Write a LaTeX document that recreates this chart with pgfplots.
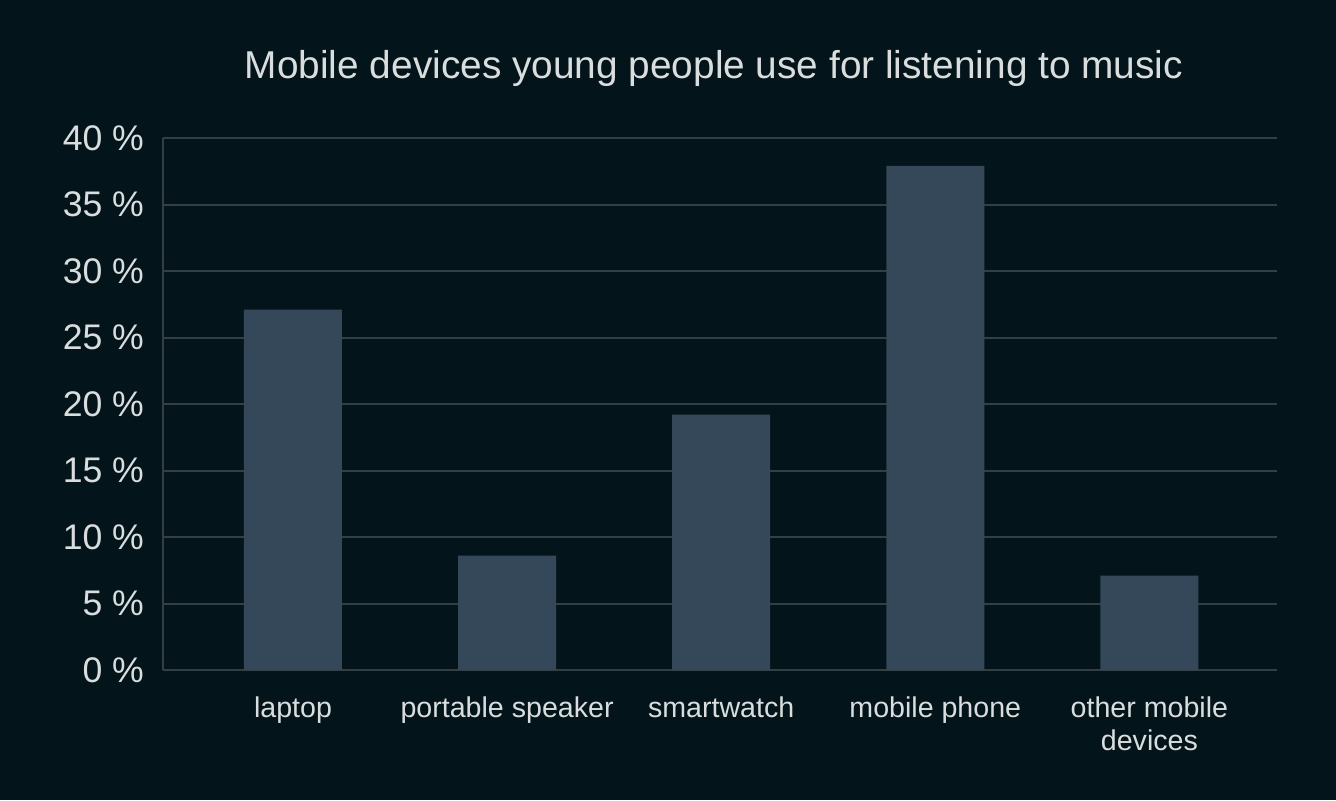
\documentclass[border=0pt]{standalone}
\usepackage{fontspec}
\setmainfont{Liberation Sans}
\usepackage{pgfplots}
\pgfplotsset{compat=1.18}
\definecolor{bg}{HTML}{03141A}
\definecolor{gridc}{HTML}{333F43}
\definecolor{barc}{HTML}{344859}
\definecolor{txt}{HTML}{D9DDDE}
\begin{document}
\begin{tikzpicture}
\fill[bg] (-81.5pt,-65pt) rectangle (586.5pt,335pt);
\node[text=txt, font=\fontsize{19.4}{23}\selectfont, anchor=center] at (275.5pt,301pt) {Mobile devices young people use for listening to music};
\begin{axis}[
  at={(0pt,0pt)}, anchor=south west,
  scale only axis, width=557pt, height=266pt,
  xmin=-0.607, xmax=4.596, ymin=0, ymax=40,
  ytick={0,5,...,40},
  xtick={0,1,2,3,4},
  xticklabels={laptop,portable speaker,smartwatch,mobile phone,{other mobile\\devices}},
  /pgf/number format/assume math mode=true,
  yticklabel={\pgfmathprintnumber{\tick}~\%},
  axis lines*=left,
  axis line style={draw=gridc, line width=1pt, -},
  ymajorgrids,
  major grid style={draw=gridc, line width=1pt},
  major tick length=0pt,
  yticklabel style={text=txt, font=\fontsize{17.8}{21}\selectfont, anchor=east, xshift=-6pt},
  xticklabel style={text=txt, font=\fontsize{14.3}{16.5}\selectfont, align=center, anchor=north, yshift=-10pt},
  ybar, bar width=49pt,
]
\addplot[fill=barc, draw=none] coordinates {(0,27.1) (1,8.6) (2,19.2) (3,37.9) (4,7.1)};
\end{axis}
\end{tikzpicture}
\end{document}
